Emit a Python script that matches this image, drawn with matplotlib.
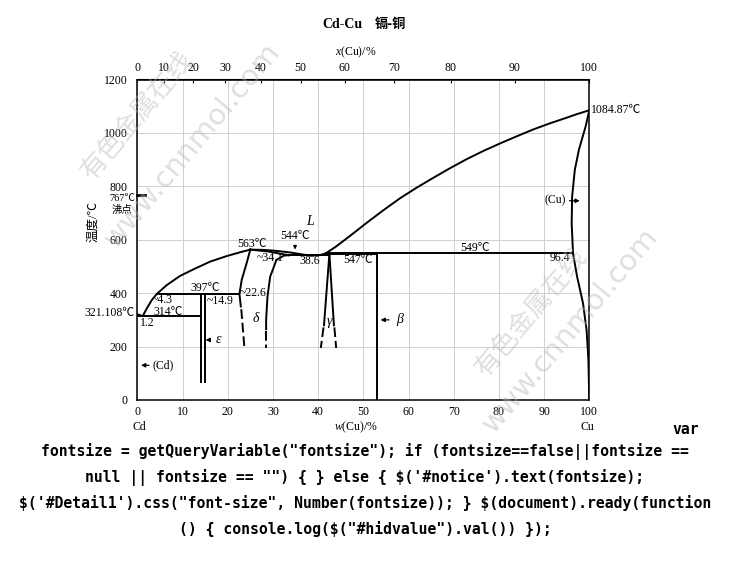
import numpy as np
import matplotlib.pyplot as plt

plt.rcParams['font.family'] = ['Liberation Serif', 'Noto Sans CJK SC', 'DejaVu Sans']
plt.rcParams['mathtext.fontset'] = 'custom'
plt.rcParams['mathtext.rm'] = 'Liberation Serif'
plt.rcParams['mathtext.it'] = 'Liberation Serif:italic'

# phase boundaries, w(Cu) in % and temperature in C
liq_cd_w = [0, 1.2, 2.1, 3.2, 4.3, 6.5, 9.4, 12.4, 16.1, 19.8, 22.7, 25]
liq_cd_t = [321.108, 314, 343, 374, 397, 430, 464, 489, 518, 539, 553, 563]
liq_mid_w = [25, 28, 31, 34, 36.5, 38.6, 40.5, 41.7]
liq_mid_t = [563, 562, 558, 552, 545, 540, 543, 549]
liq_cu_w = [41.7, 44.0, 47.1, 50.8, 54.4, 58.1, 61.8, 65.5, 69.2, 72.9, 76.5,
            80.3, 83.9, 87.6, 91.3, 95.0, 97.2, 100]
liq_cu_t = [549, 575, 615, 664, 710, 755, 795, 832, 868, 902, 932,
            961, 987, 1013, 1036, 1057, 1070, 1084.87]
sol_cu_w = [100, 99.2, 97.7, 96.8, 96.2, 96.1, 96.4]
sol_cu_t = [1084.87, 1025, 937, 862, 762, 662, 549]
solv_cu_w = [96.4, 97.3, 98.6, 99.4, 99.8, 100]
solv_cu_t = [549, 462, 363, 262, 150, 0]

delta_l_w = [25, 24.2, 23.1, 22.6, 22.9]
delta_l_t = [563, 513, 450, 397, 350]
delta_top_w = [25, 29, 33.5]
delta_top_t = [563, 556, 542]
delta_r_w = [33.5, 32.5, 30.8, 29.4, 28.8, 28.5, 28.5]
delta_r_t = [542, 541, 525, 462, 387, 300, 265]
gamma_l_w = [42.5, 41.3]
gamma_r_w = [42.5, 43.5]
gamma_t = [547, 280]
eps_w = [14.0, 14.9]
eps_t = [397, 66]
beta_w = [53.0, 53.0]
beta_t = [549, 0]

# dashed (uncertain) boundary ends
dash_w = [[23.0, 23.7], [28.5, 28.5], [41.2, 40.6], [43.6, 44.0]]
dash_t = [[340, 195], [258, 195], [272, 195], [272, 195]]

# horizontal invariant lines: temperature, from w, to w
inv_t = [314, 397, 542, 547, 549]
inv_from = [0, 4.3, 33.5, 42.5, 41.7]
inv_to = [14.0, 22.6, 42.5, 53.0, 96.4]

# labels inside the plot
lab_text = ['563℃', '544℃', '~34.1', '38.6', '547℃', '549℃', '96.4', '397℃',
            '~14.9', '~22.6', '~4.3', '314℃', '1.2', '1084.87℃']
lab_w = [25.3, 34.9, 26.3, 38.2, 48.9, 74.7, 93.5, 15.0, 18.3, 22.7, 5.4, 6.9, 2.1, 100.3]
lab_t = [585, 615, 531, 519, 525, 568, 531, 419, 372, 402, 375, 331, 288, 1087]
lab_ha = ['center', 'center', 'left', 'center', 'center', 'center', 'center', 'center',
          'center', 'left', 'center', 'center', 'center', 'left']

phase_text = ['δ', 'γ', 'L']
phase_w = [26.3, 42.6, 38.3]
phase_t = [306, 293, 670]

# arrow labels: text, arrow tip (w, T), text start w
arrow_text = ['(Cd)', 'ε', 'β', '(Cu)']
arrow_tip = [0.2, 14.5, 53.2, 98.5]
arrow_tail = [3.2, 16.8, 56.3, 95.0]
arrow_t = [130, 225, 300, 746]
arrow_lab_w = [3.4, 17.4, 57.3, 94.8]
arrow_lab_ha = ['left', 'left', 'left', 'right']

x_ticks = list(range(0, 101, 10))
y_ticks = list(range(0, 1201, 200))

M_CU, M_CD = 63.546, 112.41


def w_to_x(w):
    w = np.asarray(w, dtype=float)
    a = w / M_CU
    b = (100 - w) / M_CD
    return 100 * a / (a + b)


def x_to_w(x):
    x = np.asarray(x, dtype=float)
    a = x * M_CU
    b = (100 - x) * M_CD
    return 100 * a / (a + b)


fig = plt.figure(figsize=(7.3, 5.79), dpi=100)
ax = fig.add_axes([137.3 / 730, 1 - 400 / 579, 452 / 730, 320.5 / 579])
ax.set_xlim(0, 100)
ax.set_ylim(0, 1200)
ax.set_xticks(x_ticks)
ax.set_yticks(y_ticks)
ax.tick_params(axis='both', length=0, labelsize=8.5)
ax.tick_params(axis='x', pad=4)
ax.tick_params(axis='y', pad=7)
ax.grid(True, color='#cfcfcf', lw=0.7)
for s in ax.spines.values():
    s.set_linewidth(1.1)

top = ax.secondary_xaxis('top', functions=(w_to_x, x_to_w))
top.set_xticks(x_ticks)
top.tick_params(direction='in', length=3, labelsize=8.5, pad=4)

lw = 1.4
k = 'black'
ax.plot(liq_cd_w, liq_cd_t, color=k, lw=lw)
ax.plot(liq_mid_w, liq_mid_t, color=k, lw=lw)
ax.plot(liq_cu_w, liq_cu_t, color=k, lw=lw)
ax.plot(sol_cu_w, sol_cu_t, color=k, lw=lw)
ax.plot(solv_cu_w, solv_cu_t, color=k, lw=lw)
ax.plot(delta_l_w, delta_l_t, color=k, lw=lw)
ax.plot(delta_top_w, delta_top_t, color=k, lw=lw)
ax.plot(delta_r_w, delta_r_t, color=k, lw=lw)
ax.plot(gamma_l_w, gamma_t, color=k, lw=lw)
ax.plot(gamma_r_w, gamma_t, color=k, lw=lw)
for w in eps_w:
    ax.plot([w, w], eps_t, color=k, lw=lw)
ax.plot(beta_w, beta_t, color=k, lw=lw)
for dw, dt in zip(dash_w, dash_t):
    ax.plot(dw, dt, color=k, lw=lw, dashes=(5, 2))
for t, a, b in zip(inv_t, inv_from, inv_to):
    ax.plot([a, b], [t, t], color=k, lw=lw)

# boiling point mark on the left axis
ax.plot([0, 1.8], [767, 767], color=k, lw=2, clip_on=False)

for s, w, t, ha in zip(lab_text, lab_w, lab_t, lab_ha):
    ax.text(w, t, s, ha=ha, va='center', fontsize=8.5, clip_on=False)
for s, w, t in zip(phase_text, phase_w, phase_t):
    ax.text(w, t, s, ha='center', va='center', fontsize=10, style='italic')
for s, tip, tail, t, lw_, ha in zip(arrow_text, arrow_tip, arrow_tail, arrow_t,
                                    arrow_lab_w, arrow_lab_ha):
    ax.annotate('', xy=(tip, t), xytext=(tail, t),
                arrowprops=dict(arrowstyle='-|>', color=k, lw=0.9, mutation_scale=6))
    st = 'italic' if s in ('ε', 'β') else 'normal'
    fs = 10 if st == 'italic' else 8.5
    ax.text(lw_, t, s, ha=ha, va='center', fontsize=fs, style=st)
ax.annotate('', xy=(34.9, 553), xytext=(34.9, 590),
            arrowprops=dict(arrowstyle='-|>', color=k, lw=0.8, mutation_scale=5))

# texts outside the frame
ax.text(-0.6, 327, '321.108℃', ha='right', va='center', fontsize=8.5, clip_on=False)
ax.text(-3.4, 754, '767℃', ha='center', va='center', fontsize=7.5, clip_on=False)
ax.text(-3.4, 712, '沸点', ha='center', va='center', fontsize=7.5, clip_on=False)
xt = ax.get_xaxis_transform()
ax.text(0.5, -0.085, 'Cd', transform=xt, ha='center', va='center', fontsize=8.5)
ax.text(48.4, -0.085, '$w$(Cu)/%', transform=xt, ha='center', va='center', fontsize=8.5)
ax.text(99.5, -0.085, 'Cu', transform=xt, ha='center', va='center', fontsize=8.5)
ax.text(48.4, 1.086, '$x$(Cu)/%', transform=xt, ha='center', va='center', fontsize=8.5)

fig.text(0.127, 0.617, '温度/℃', rotation=90, ha='center', va='center', fontsize=9)
fig.text(0.497, 0.958, 'Cd-Cu', ha='right', va='center', fontsize=10, weight='bold')
fig.text(0.514, 0.958, '镉-铜', ha='left', va='center', fontsize=9.5, weight='bold',
         family=['Noto Sans CJK SC'])

# watermark
wm = dict(color='#b8b8b8', alpha=0.45, rotation=50, ha='center', va='center',
          rotation_mode='anchor', zorder=10)
fig.text(138 / 730, 1 - 115 / 579, '有色金属在线', fontsize=19,
         family=['Noto Sans CJK SC'], **wm)
fig.text(192 / 730, 1 - 145 / 579, 'www.cnnmol.com', fontsize=21,
         family=['DejaVu Sans'], **wm)
fig.text(532 / 730, 1 - 312 / 579, '有色金属在线', fontsize=19,
         family=['Noto Sans CJK SC'], **wm)
fig.text(570 / 730, 1 - 330 / 579, 'www.cnnmol.com', fontsize=21,
         family=['DejaVu Sans'], **wm)

# page script text that was captured under the chart
mono = dict(family=['DejaVu Sans Mono'], weight='bold', fontsize=10.6,
            ha='center', va='center', parse_math=False)
fig.text(686 / 730, 1 - 430 / 579, 'var', **mono)
js_lines = [
    'fontsize = getQueryVariable("fontsize"); if (fontsize==false||fontsize ==',
    'null || fontsize == "") { } else { $(\'#notice\').text(fontsize);',
    '$(\'#Detail1\').css("font-size", Number(fontsize)); } $(document).ready(function',
    '() { console.log($("#hidvalue").val()) });',
]
js_y = [452, 478, 503, 529]
for s, y in zip(js_lines, js_y):
    fig.text(0.5, 1 - y / 579, s, **mono)

fig.savefig('out.png', dpi=100)
